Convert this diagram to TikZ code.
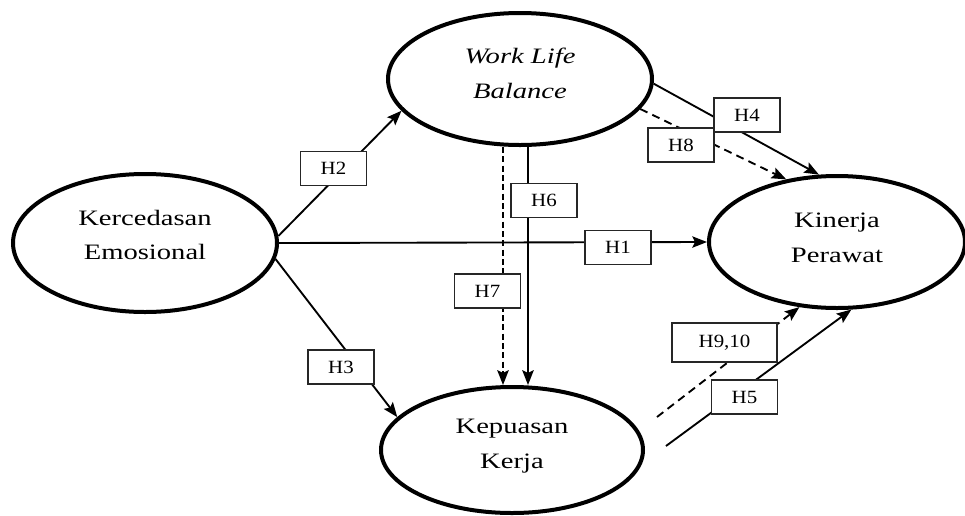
\documentclass[tikz,border=0pt]{standalone}
\usepackage{fontspec}
\setmainfont{Liberation Serif}
\newfontfamily\ellfont{Liberation Serif}[FakeStretch=1.3]
\newfontfamily\labfont{Liberation Serif}[FakeStretch=1.12]
\usetikzlibrary{shapes.geometric,arrows.meta}
\begin{document}
\begin{tikzpicture}[x=0.75pt,y=-0.75pt,
  ell/.style={ellipse,draw,line width=3pt,align=center,inner sep=0pt,
    font=\ellfont\fontsize{16.5}{26}\selectfont},
  hbox/.style={draw=black!85,line width=0.9pt,fill=white,minimum width=49.5pt,
    minimum height=25.5pt,inner sep=0pt,font=\labfont\fontsize{14}{16}\selectfont},
  conn/.style={line width=1.4pt,-{Stealth[length=11pt,width=8.5pt,inset=2pt]}},
  dconn/.style={conn,dash pattern=on 6pt off 4pt},
  vconn/.style={conn,line width=1.9pt},
  vdconn/.style={vconn,dash pattern=on 4.5pt off 2.5pt}]
\useasboundingbox (0,0) rectangle (965,515);
% constructs
\node[ell,minimum width=198pt,minimum height=103.5pt,text depth=12pt] (KE) at (145,243) {Kercedasan\\Emosional};
\node[ell,minimum width=198pt,minimum height=99pt,text depth=9pt,
  font=\ellfont\itshape\fontsize{16.5}{26}\selectfont] (WLB) at (520,79) {Work Life\\Balance};
\node[ell,minimum width=192pt,minimum height=99pt,text depth=6pt] (KP) at (837,242) {Kinerja\\Perawat};
\node[ell,minimum width=196.5pt,minimum height=94.5pt,text depth=9pt] (KK) at (512,450) {Kepuasan\\Kerja};
% free starting points
\coordinate (s9) at (657,417);
\coordinate (s5) at (666,446);
% connectors
\draw[conn] (KE.3) -- (WLB.195);
\draw[conn] (KE.east) -- (KP.west);
\draw[conn] (KE.-7) -- (KK.164);
\draw[conn] (WLB.-2) -- (KP.105);
\draw[dconn] (WLB.-14) -- (KP.129);
\draw[vdconn] ([xshift=-12.75pt]WLB.south) -- ([xshift=-6.75pt]KK.north);
\draw[vconn] ([xshift=6pt]WLB.south) -- ([xshift=12pt]KK.north);
\draw[dconn] (s9) -- (KP.240);
\draw[conn] (s5) -- (KP.282);
% hypothesis labels
\node[hbox] (h2) at (333.5,168.5) {H2};
\node[hbox] (h4) at (747,115) {H4};
\node[hbox] (h8) at (681,145) {H8};
\node[hbox] (h6) at (544,200.5) {H6};
\node[hbox] (h7) at (487.5,291) {H7};
\node[hbox] (h1) at (618,247.5) {H1};
\node[hbox] (h3) at (341,367) {H3};
\node[hbox,minimum width=78.75pt,minimum height=29.25pt] (h910) at (724.5,342.5) {H9,10};
\node[hbox] (h5) at (744.5,397) {H5};
\end{tikzpicture}
\end{document}
